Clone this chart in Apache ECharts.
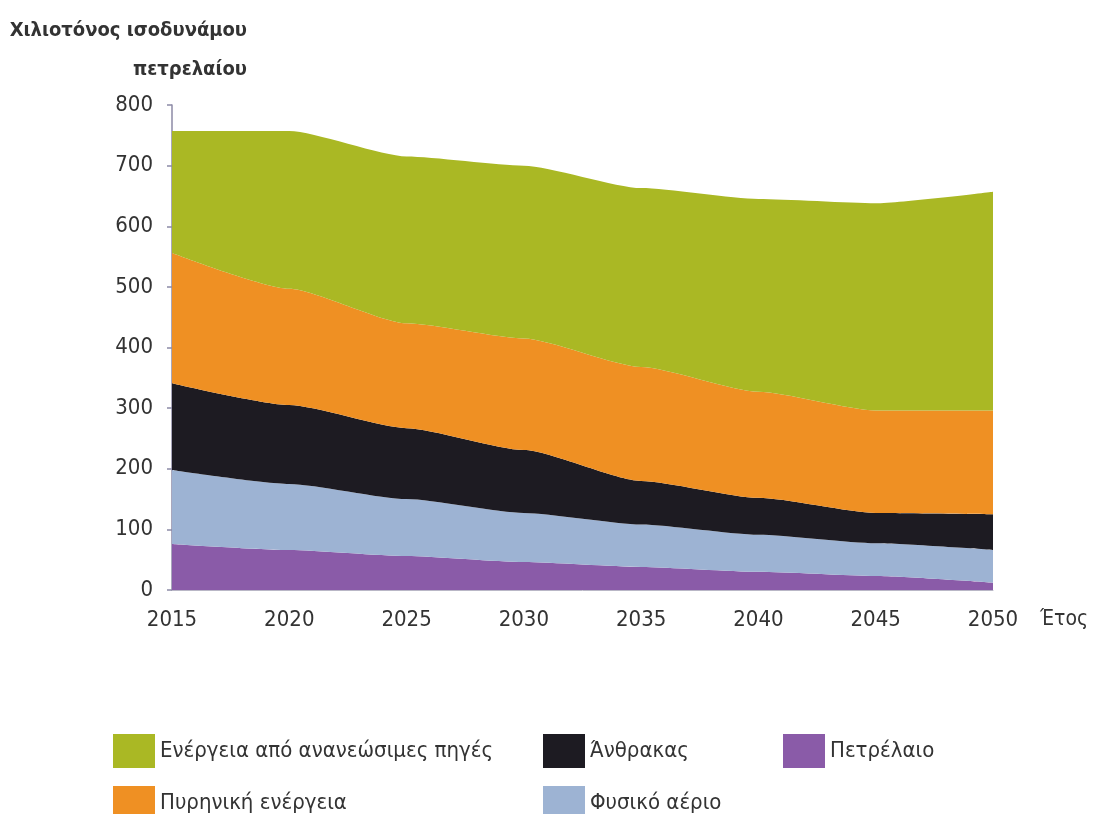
<!DOCTYPE html>
<html>
<head>
<meta charset="utf-8">
<script src="https://cdn.jsdelivr.net/npm/echarts@6/dist/echarts.min.js"></script>
<style>
  html, body { margin: 0; padding: 0; background: #ffffff; }
  #chart { width: 1105px; height: 814px; }
</style>
</head>
<body>
<div id="chart"></div>
<script>
// Projected primary energy supply by source (thousand tonnes of oil equivalent)
const years = ['2015', '2020', '2025', '2030', '2035', '2040', '2045', '2050'];
const oil        = [76, 66, 56, 46, 38, 30, 23, 12];
const naturalGas = [122, 109, 94, 81, 70, 61, 54, 54];
const coal       = [143, 130, 117, 104, 72, 61, 50, 59];
const nuclear    = [215, 192, 173, 184, 188, 175, 169, 171];
const renewables = [201, 260, 275, 285, 295, 318, 342, 361];
const yTicks = [0, 100, 200, 300, 400, 500, 600, 700, 800];

const FONT = '"DejaVu Sans Condensed", "Liberation Sans Narrow", "Roboto", sans-serif';
const TEXT = '#333333';

// stacked from the bottom up
const layers = [
  { name: 'Πετρέλαιο', data: oil, color: '#8a5ba8' },
  { name: 'Φυσικό αέριο', data: naturalGas, color: '#9db3d3' },
  { name: 'Άνθρακας', data: coal, color: '#1d1b22' },
  { name: 'Πυρηνική ενέργεια', data: nuclear, color: '#ef9023' },
  { name: 'Ενέργεια από ανανεώσιμες πηγές', data: renewables, color: '#aab824' }
];

// legend grid: [series name, left, top]
const legendCells = [
  ['Ενέργεια από ανανεώσιμες πηγές', 113, 734],
  ['Πυρηνική ενέργεια', 113, 786],
  ['Άνθρακας', 543, 734],
  ['Φυσικό αέριο', 543, 786],
  ['Πετρέλαιο', 783, 734]
];

const chart = echarts.init(document.getElementById('chart'), null, { renderer: 'canvas' });

chart.setOption({
  animation: false,
  backgroundColor: '#ffffff',
  color: layers.map(l => l.color),
  grid: { left: 172, right: 112, top: 105, bottom: 224 },
  graphic: [
    {
      type: 'text',
      x: 247, y: 31,
      style: {
        text: 'Χιλιοτόνος ισοδυνάμου',
        textAlign: 'right', textVerticalAlign: 'middle',
        font: 'bold 20px ' + FONT, fill: TEXT
      }
    },
    {
      type: 'text',
      x: 247, y: 70,
      style: {
        text: 'πετρελαίου',
        textAlign: 'right', textVerticalAlign: 'middle',
        font: 'bold 20px ' + FONT, fill: TEXT
      }
    },
    {
      type: 'text',
      x: 1040, y: 620,
      style: {
        text: 'Έτος',
        textAlign: 'left', textVerticalAlign: 'middle',
        font: '21px ' + FONT, fill: TEXT
      }
    }
  ],
  legend: legendCells.map(([name, left, top]) => ({
    data: [name],
    left: left,
    top: top,
    padding: 0,
    itemWidth: 42,
    itemHeight: 34,
    itemGap: 0,
    icon: 'rect',
    selectedMode: false,
    textStyle: { fontFamily: FONT, fontSize: 22, color: TEXT }
  })),
  xAxis: {
    type: 'category',
    data: years,
    boundaryGap: false,
    axisLine: { show: true, lineStyle: { color: '#b9b7c6', width: 1 } },
    axisTick: { show: false },
    axisLabel: { margin: 19, fontFamily: FONT, fontSize: 22, color: TEXT },
    splitLine: { show: false }
  },
  yAxis: {
    type: 'value',
    min: 0,
    max: yTicks[yTicks.length - 1],
    interval: yTicks[1] - yTicks[0],
    axisLine: { show: true, lineStyle: { color: '#8c8aa6', width: 1.5 } },
    axisTick: { show: true, length: 5, lineStyle: { color: '#8c8aa6', width: 1.5 } },
    axisLabel: { margin: 19, fontFamily: FONT, fontSize: 22, color: TEXT },
    splitLine: { show: false }
  },
  series: layers.map(l => ({
    name: l.name,
    type: 'line',
    stack: 'total',
    data: l.data,
    smooth: 0.2,
    smoothMonotone: 'x',
    symbol: 'none',
    lineStyle: { width: 0 },
    areaStyle: { color: l.color, opacity: 1 },
    itemStyle: { color: l.color },
    emphasis: { disabled: true }
  }))
});
</script>
</body>
</html>
